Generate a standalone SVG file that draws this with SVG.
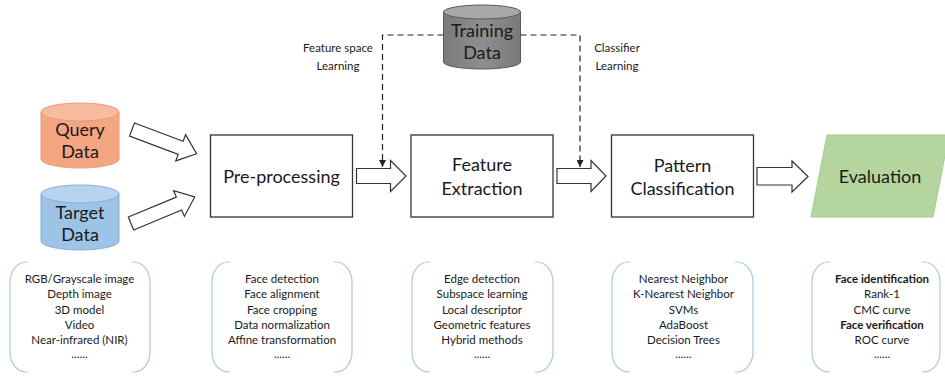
<svg xmlns="http://www.w3.org/2000/svg" width="945" height="377" viewBox="0 0 945 377">
  <style>
    .t { font-family: Lato, "Liberation Sans", sans-serif; fill: #1a1a1a; text-anchor: middle; }
    .big { font-size: 18px; }
    .lbl { font-size: 11.5px; }
    .lst { font-size: 11.5px; }
    .b { font-weight: bold; }
    .box { fill: #ffffff; stroke: #333333; stroke-width: 1.3; }
    .blk { fill: #ffffff; stroke: #333333; stroke-width: 1.2; stroke-linejoin: miter; }
    .dash { fill: none; stroke: #222222; stroke-width: 1.2; stroke-dasharray: 6 4; }
    .brace { fill: none; stroke: #a9c8e6; stroke-width: 1.2; }
  </style>
  <defs>
    <marker id="tri" viewBox="0 0 10 10" refX="10" refY="5" markerWidth="7" markerHeight="7" markerUnits="userSpaceOnUse" orient="auto">
      <path d="M0,0 L10,5 L0,10 z" fill="#222222"/>
    </marker>
    <!-- slanted block arrow, tail at origin, pointing along +x -->
    <path id="slant" d="M0,-7 H52 V-14 L69,0 L52,14 V7 H0 z"/>
    <linearGradient id="gGray" x1="0" y1="0" x2="1" y2="0">
      <stop offset="0" stop-color="#7a7a7a"/>
      <stop offset="0.5" stop-color="#8f8f8f"/>
      <stop offset="1" stop-color="#7a7a7a"/>
    </linearGradient>
  </defs>

  <!-- data sources -->
  <g id="query-data">
    <path d="M41,112 V159 A39,9 0 0 0 119,159 V112 z" fill="#f4a582" stroke="#eb9a76" stroke-width="1"/>
    <ellipse cx="80" cy="112" rx="39" ry="9" fill="#f7bba0" stroke="#eb9a76" stroke-width="1"/>
    <text class="t big" x="80" y="136">Query</text>
    <text class="t big" x="80" y="158">Data</text>
  </g>
  <g id="target-data">
    <path d="M41,194 V241 A39,9 0 0 0 119,241 V194 z" fill="#9dc3e6" stroke="#86b0d8" stroke-width="1"/>
    <ellipse cx="80" cy="194" rx="39" ry="9" fill="#b7d3ee" stroke="#86b0d8" stroke-width="1"/>
    <text class="t big" x="80" y="219">Target</text>
    <text class="t big" x="80" y="241">Data</text>
  </g>
  <g id="training-data">
    <path d="M443.5,12 V62 A38.5,7 0 0 0 520.5,62 V12 z" fill="url(#gGray)" stroke="#5a5a5a" stroke-width="1"/>
    <ellipse cx="482" cy="12" rx="38.5" ry="7" fill="#a8a8a8" stroke="#5a5a5a" stroke-width="1"/>
    <text class="t big" x="482" y="37">Training</text>
    <text class="t big" x="482" y="59">Data</text>
  </g>

  <!-- processing stages -->
  <g id="pre-processing">
    <rect class="box" x="210.5" y="135" width="142" height="82"/>
    <text class="t big" x="281.5" y="183">Pre-processing</text>
  </g>
  <g id="feature-extraction">
    <rect class="box" x="411" y="135" width="142" height="82"/>
    <text class="t big" x="482" y="171">Feature</text>
    <text class="t big" x="482" y="195">Extraction</text>
  </g>
  <g id="pattern-classification">
    <rect class="box" x="611.5" y="135" width="142" height="82"/>
    <text class="t big" x="682.5" y="172">Pattern</text>
    <text class="t big" x="682.5" y="195">Classification</text>
  </g>
  <g id="evaluation">
    <path d="M827,135 H949 L933,217 H811 z" fill="#b4d69e" stroke="#a5cc8c" stroke-width="1"/>
    <text class="t big" x="880" y="183">Evaluation</text>
  </g>

  <!-- connectors -->
  <g id="connectors">
    <use href="#slant" class="blk" transform="translate(132,129.5) rotate(20.6)"/>
    <use href="#slant" class="blk" transform="translate(131,223.5) rotate(-22.6)"/>
    <path class="blk" d="M356.5,168.5 H390.5 V160.5 L406,176 L390.5,191.5 V183.5 H356.5 z"/>
    <path class="blk" d="M557,168.5 H591 V160.5 L606,176 L591,191.5 V183.5 H557 z"/>
    <path class="blk" d="M757,167.5 H792 V161 L808,176.5 L792,192 V185 H757 z"/>
    <path class="dash" d="M443.5,35 H382.5 V167" marker-end="url(#tri)"/>
    <path class="dash" d="M520.5,35 H580 V167" marker-end="url(#tri)"/>
    <text class="t lbl" x="338" y="52">Feature space</text>
    <text class="t lbl" x="338" y="70">Learning</text>
    <text class="t lbl" x="617" y="52">Classifier</text>
    <text class="t lbl" x="617" y="70">Learning</text>
  </g>

  <!-- detail lists -->
  <g id="list-data">
    <path class="brace" d="M28,262 H26 A16,20 0 0 0 10,282 V352 A16,20 0 0 0 26,372 H28"/>
    <path class="brace" d="M132,262 H134 A16,20 0 0 1 150,282 V352 A16,20 0 0 1 134,372 H132"/>
    <text class="t lst" x="79.5" y="283">RGB/Grayscale image</text>
    <text class="t lst" x="79.5" y="298">Depth image</text>
    <text class="t lst" x="79.5" y="313.5">3D model</text>
    <text class="t lst" x="79.5" y="328.5">Video</text>
    <text class="t lst" x="79.5" y="344">Near-infrared (NIR)</text>
    <text class="t lst" x="79.5" y="358">......</text>
  </g>
  <g id="list-preprocessing">
    <path class="brace" d="M230,262 H228 A16,20 0 0 0 212,282 V352 A16,20 0 0 0 228,372 H230"/>
    <path class="brace" d="M334,262 H336 A16,20 0 0 1 352,282 V352 A16,20 0 0 1 336,372 H334"/>
    <text class="t lst" x="282" y="283">Face detection</text>
    <text class="t lst" x="282" y="298">Face alignment</text>
    <text class="t lst" x="282" y="313.5">Face cropping</text>
    <text class="t lst" x="282" y="328.5">Data normalization</text>
    <text class="t lst" x="282" y="344">Affine transformation</text>
    <text class="t lst" x="282" y="358">......</text>
  </g>
  <g id="list-features">
    <path class="brace" d="M430,262 H428 A16,20 0 0 0 412,282 V352 A16,20 0 0 0 428,372 H430"/>
    <path class="brace" d="M535,262 H537 A16,20 0 0 1 553,282 V352 A16,20 0 0 1 537,372 H535"/>
    <text class="t lst" x="482" y="283">Edge detection</text>
    <text class="t lst" x="482" y="298">Subspace learning</text>
    <text class="t lst" x="482" y="313.5">Local descriptor</text>
    <text class="t lst" x="482" y="328.5">Geometric features</text>
    <text class="t lst" x="482" y="344">Hybrid methods</text>
    <text class="t lst" x="482" y="358">......</text>
  </g>
  <g id="list-classifiers">
    <path class="brace" d="M630,262 H628 A16,20 0 0 0 612,282 V352 A16,20 0 0 0 628,372 H630"/>
    <path class="brace" d="M735,262 H737 A16,20 0 0 1 753,282 V352 A16,20 0 0 1 737,372 H735"/>
    <text class="t lst" x="683.5" y="283">Nearest Neighbor</text>
    <text class="t lst" x="683.5" y="298">K-Nearest Neighbor</text>
    <text class="t lst" x="683.5" y="313.5">SVMs</text>
    <text class="t lst" x="683.5" y="328.5">AdaBoost</text>
    <text class="t lst" x="683.5" y="344">Decision Trees</text>
    <text class="t lst" x="683.5" y="358">......</text>
  </g>
  <g id="list-evaluation">
    <path class="brace" d="M830,262 H828 A16,20 0 0 0 812,282 V352 A16,20 0 0 0 828,372 H830"/>
    <path class="brace" d="M922,262 H924 A16,20 0 0 1 940,282 V352 A16,20 0 0 1 924,372 H922"/>
    <text class="t lst b" x="882" y="283">Face identification</text>
    <text class="t lst" x="882" y="298">Rank-1</text>
    <text class="t lst" x="882" y="313.5">CMC curve</text>
    <text class="t lst b" x="882" y="328.5">Face verification</text>
    <text class="t lst" x="882" y="344">ROC curve</text>
    <text class="t lst" x="882" y="358">......</text>
  </g>
</svg>
